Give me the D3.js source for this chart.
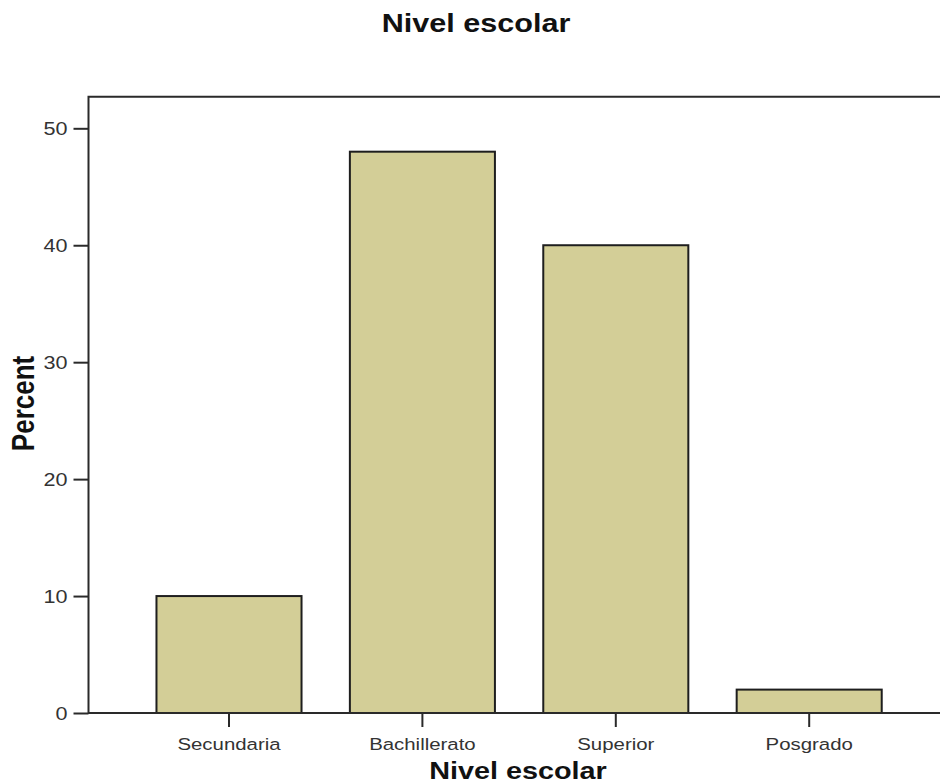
<!DOCTYPE html>
<html>
<head>
<meta charset="utf-8">
<script src="https://cdn.jsdelivr.net/npm/d3@7"></script>
<style>
  html, body { margin: 0; padding: 0; background: #fff; }
  svg { display: block; font-family: "Liberation Sans", Arial, sans-serif; }
</style>
</head>
<body>
<svg id="chart" width="940" height="784"></svg>
<script>
const categories = ["Secundaria", "Bachillerato", "Superior", "Posgrado"];
const percents = [10, 48, 40, 2];
const yTicks = [0, 10, 20, 30, 40, 50];
const chartTitle = "Nivel escolar";
const xTitle = "Nivel escolar";
const yTitle = "Percent";

const svg = d3.select("#chart");
const SX = 1.2; // horizontal stretch of text in the reference

const plotLeft = 88.5, plotTop = 96.7, plotBottom = 713, plotRight = 960;

const x = d3.scaleBand()
  .domain(categories)
  .range([132.3, 905.9])
  .paddingInner(0.25)
  .paddingOuter(0.125);

const y = d3.scaleLinear()
  .domain([0, 50])
  .range([plotBottom, 128.3]);

// Bars
svg.append("g")
  .selectAll("rect")
  .data(categories.map((c, i) => ({ c, v: percents[i] })))
  .join("rect")
  .attr("x", d => x(d.c))
  .attr("y", d => y(d.v))
  .attr("width", x.bandwidth())
  .attr("height", d => y(0) - y(d.v))
  .attr("fill", "#d3ce97")
  .attr("stroke", "#1e1e1e")
  .attr("stroke-width", 2);

// Frame (left, top, bottom)
svg.append("path")
  .attr("d", `M${plotRight},${plotTop}H${plotLeft}V${plotBottom}H${plotRight}`)
  .attr("fill", "none")
  .attr("stroke", "#2a2a2a")
  .attr("stroke-width", 2);

// Y axis
const yAxis = svg.append("g")
  .attr("transform", `translate(${plotLeft},0)`)
  .call(d3.axisLeft(y).tickValues(yTicks).tickSize(15).tickSizeOuter(0).tickPadding(0));
yAxis.select(".domain").remove();
yAxis.selectAll(".tick line").attr("stroke", "#2a2a2a").attr("stroke-width", 2);
yAxis.selectAll(".tick text")
  .attr("x", -21 / SX)
  .attr("dy", "0.35em")
  .attr("transform", `scale(${SX},1)`)
  .attr("font-size", 18)
  .attr("font-family", "'Liberation Sans', Arial, sans-serif")
  .attr("fill", "#333");

// X axis
const xAxis = svg.append("g")
  .attr("transform", `translate(0,${plotBottom})`)
  .call(d3.axisBottom(x).tickSize(14).tickSizeOuter(0).tickPadding(0));
xAxis.select(".domain").remove();
xAxis.selectAll(".tick line").attr("stroke", "#2a2a2a").attr("stroke-width", 2);
xAxis.selectAll(".tick text")
  .attr("y", 37)
  .attr("dy", 0)
  .attr("transform", `scale(${SX},1)`)
  .attr("font-size", 17)
  .attr("font-family", "'Liberation Sans', Arial, sans-serif")
  .attr("fill", "#333");

// Chart title
svg.append("text")
  .attr("transform", `translate(476,32) scale(${SX * 0.98},1)`)
  .attr("text-anchor", "middle")
  .attr("font-size", 26)
  .attr("font-weight", "bold")
  .attr("fill", "#111")
  .text(chartTitle);

// X axis title
svg.append("text")
  .attr("transform", `translate(518,779) scale(${SX},1)`)
  .attr("text-anchor", "middle")
  .attr("font-size", 24)
  .attr("font-weight", "bold")
  .attr("fill", "#111")
  .text(xTitle);

// Y axis title
svg.append("text")
  .attr("transform", `translate(34,403.5) scale(${SX},1) rotate(-90)`)
  .attr("text-anchor", "middle")
  .attr("font-size", 26)
  .attr("font-weight", "bold")
  .attr("fill", "#111")
  .text(yTitle);
</script>
</body>
</html>
